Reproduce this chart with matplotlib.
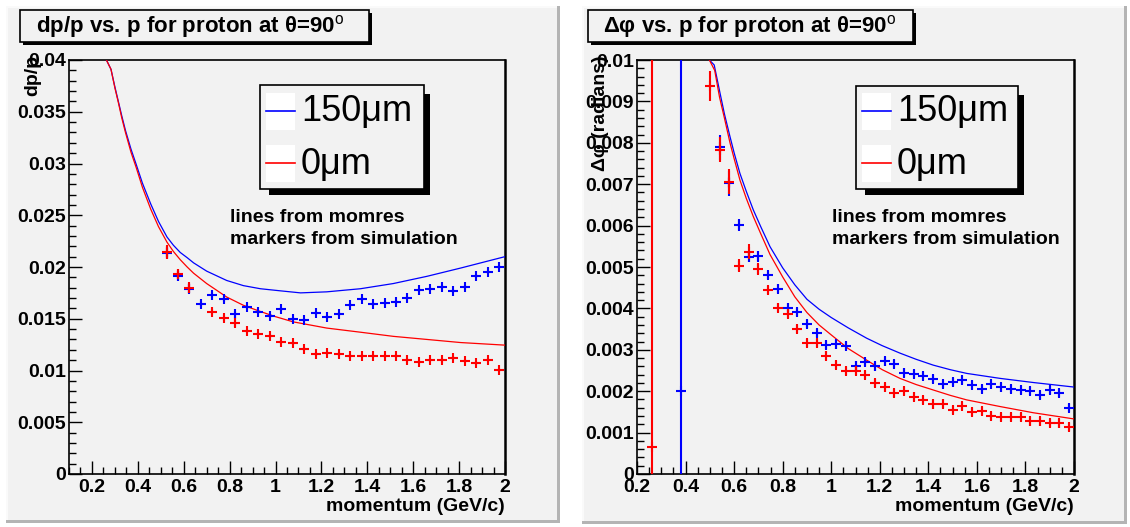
import matplotlib
matplotlib.use('Agg')
import matplotlib.pyplot as plt
from matplotlib.patches import Rectangle
from matplotlib.ticker import MultipleLocator, FuncFormatter

plt.rcParams['font.family'] = ['Liberation Sans', 'DejaVu Sans']
plt.rcParams['mathtext.fontset'] = 'custom'
plt.rcParams['mathtext.rm'] = 'Liberation Sans'

# ---- left panel: dp/p ----
dpp_line_150_p = [0.263, 0.283, 0.30, 0.315, 0.33, 0.346, 0.37, 0.393, 0.42, 0.456, 0.49, 0.527, 0.555, 0.585, 0.615, 0.643,
                  0.70, 0.787, 0.86, 0.934, 1.02, 1.109, 1.223, 1.37, 1.513, 1.66, 1.807, 2.0]
dpp_line_150_v = [0.0400, 0.0391, 0.0374, 0.0360, 0.0346, 0.0332, 0.0314, 0.0299, 0.0281, 0.0261, 0.0244, 0.0229, 0.0221, 0.0214, 0.0209, 0.0204,
                  0.0196, 0.0187, 0.0182, 0.0179, 0.0177, 0.0175, 0.0176, 0.0179, 0.0184, 0.0191, 0.0199, 0.0210]
dpp_line_0_p = [0.263, 0.283, 0.30, 0.315, 0.33, 0.346, 0.37, 0.393, 0.42, 0.456, 0.49, 0.527, 0.555, 0.585, 0.615, 0.643,
                0.70, 0.787, 0.86, 0.934, 1.0, 1.077, 1.15, 1.223, 1.37, 1.513, 1.66, 1.807, 2.0]
dpp_line_0_v = [0.0400, 0.0391, 0.0373, 0.0359, 0.0344, 0.0330, 0.0311, 0.0296, 0.0277, 0.0256, 0.0239, 0.0224, 0.0215, 0.0207, 0.0200, 0.0194,
                0.0184, 0.0171, 0.0163, 0.0157, 0.0152, 0.0147, 0.0144, 0.0141, 0.0137, 0.0133, 0.0130, 0.0127, 0.01245]

dpp_sim_150_p = [0.525, 0.575, 0.625, 0.675, 0.725, 0.775, 0.825, 0.875, 0.925, 0.975, 1.025, 1.075, 1.125, 1.175, 1.225,
                 1.275, 1.325, 1.375, 1.425, 1.475, 1.525, 1.575, 1.625, 1.675, 1.725, 1.775, 1.825, 1.875, 1.925, 1.975]
dpp_sim_150_v = [0.0214, 0.01916, 0.01792, 0.01646, 0.01727, 0.01688, 0.01542, 0.01617, 0.01565, 0.01526, 0.01591, 0.0150, 0.01484, 0.01558, 0.0152,
                 0.01549, 0.0163, 0.01688, 0.01646, 0.01656, 0.01662, 0.01698, 0.01779, 0.01786, 0.01808, 0.01769, 0.01802, 0.01916, 0.01955, 0.01997]
dpp_sim_150_e = [0.0006, 0.0005, 0.0004, 0.0003, 0.0003, 0.0003, 0.0003, 0.0002, 0.0002, 0.0002, 0.0002, 0.0002, 0.0002, 0.0002, 0.0002,
                 0.0002, 0.0002, 0.0002, 0.0002, 0.0002, 0.0002, 0.0002, 0.0002, 0.0002, 0.0002, 0.0002, 0.0002, 0.0002, 0.0002, 0.0002]
dpp_sim_0_p = [0.525, 0.575, 0.625, 0.725, 0.775, 0.825, 0.875, 0.925, 0.975, 1.025, 1.075, 1.125, 1.175, 1.225,
               1.275, 1.325, 1.375, 1.425, 1.475, 1.525, 1.575, 1.625, 1.675, 1.725, 1.775, 1.825, 1.875, 1.925, 1.975]
dpp_sim_0_v = [0.02143, 0.01932, 0.0180, 0.01565, 0.0151, 0.01455, 0.0138, 0.01354, 0.0133, 0.01273, 0.01266, 0.01211, 0.01162, 0.01169,
               0.01159, 0.01136, 0.01143, 0.01143, 0.01136, 0.01143, 0.01097, 0.01084, 0.01104, 0.01097, 0.0112, 0.01088, 0.01071, 0.01104, 0.01006]
dpp_sim_0_e = [0.0007, 0.0005, 0.00055, 0.0003, 0.0003, 0.0003, 0.0002, 0.0002, 0.0002, 0.0002, 0.0002, 0.0002, 0.0002, 0.0002,
               0.0002, 0.0002, 0.0002, 0.0002, 0.0002, 0.0002, 0.0002, 0.0002, 0.0002, 0.0002, 0.0002, 0.0002, 0.0002, 0.0002, 0.0002]

# ---- right panel: delta phi ----
dphi_line_150_p = [0.498, 0.518, 0.542, 0.56, 0.583, 0.60, 0.624, 0.65, 0.679, 0.71, 0.748, 0.80, 0.85, 0.90, 0.95, 1.0,
                   1.07, 1.146, 1.21, 1.283, 1.35, 1.42, 1.49, 1.558, 1.695, 1.832, 2.0]
dphi_line_150_v = [0.0100, 0.00988, 0.0092, 0.0087, 0.00815, 0.00776, 0.00726, 0.00683, 0.00638, 0.00597, 0.00549, 0.00498, 0.00457, 0.00422, 0.00398, 0.00378,
                   0.00353, 0.00328, 0.0031, 0.00292, 0.00277, 0.00263, 0.00252, 0.00243, 0.00231, 0.00221, 0.0021]
dphi_line_0_p = [0.498, 0.52, 0.54, 0.56, 0.583, 0.60, 0.624, 0.65, 0.679, 0.71, 0.748, 0.80, 0.85, 0.90, 0.95, 1.0,
                 1.07, 1.146, 1.21, 1.283, 1.35, 1.42, 1.49, 1.558, 1.695, 1.832, 2.0]
dphi_line_0_v = [0.0100, 0.00975, 0.0091, 0.0086, 0.0080, 0.00762, 0.0071, 0.00666, 0.00622, 0.0058, 0.0053, 0.00476, 0.00428, 0.0039, 0.0036, 0.00336,
                 0.00303, 0.00275, 0.00252, 0.00231, 0.00216, 0.00203, 0.0019, 0.00179, 0.00163, 0.00148, 0.00133]

dphi_sim_p = [0.26, 0.38, 0.50, 0.54, 0.58, 0.62, 0.66, 0.70, 0.74, 0.78, 0.82, 0.86, 0.90, 0.94, 0.98, 1.02, 1.06, 1.10, 1.14, 1.18,
              1.22, 1.26, 1.30, 1.34, 1.38, 1.42, 1.46, 1.50, 1.54, 1.58, 1.62, 1.66, 1.70, 1.74, 1.78, 1.82, 1.86, 1.90, 1.94, 1.98]
dphi_sim_150_v = [None, 0.0020, None, 0.00789, 0.00702, 0.00602, 0.00524, 0.00526, 0.0048, 0.00448, 0.00402, 0.00391, 0.00363, 0.00341, 0.00311, 0.00313, 0.0031, 0.00262, 0.0027, 0.0026,
                  0.00272, 0.00266, 0.00245, 0.00242, 0.00237, 0.00229, 0.00218, 0.00222, 0.00227, 0.00215, 0.00205, 0.00217, 0.00209, 0.00206, 0.00203, 0.00201, 0.00191, 0.00203, 0.00195, 0.0016]
dphi_sim_150_e = [None, 0.05, None, 0.0003, 0.0003, 0.00015, 0.00012, 0.00013, 0.0001, 0.0001, 0.0001, 0.0001, 0.0001, 0.0001, 0.0001, 0.0001, 0.0001, 0.0001, 0.0001, 0.0001,
                  0.0001, 0.0001, 0.0001, 0.0001, 0.0001, 0.0001, 0.0001, 0.0001, 0.0001, 0.0001, 0.0001, 0.0001, 0.0001, 0.0001, 0.0001, 0.0001, 0.0001, 0.0001, 0.0001, 0.0001]
dphi_sim_0_v = [0.00065, None, 0.009375, 0.00783, 0.00706, 0.00503, 0.00537, 0.00495, 0.00445, 0.00402, 0.00386, 0.00351, 0.00317, 0.00317, 0.00286, 0.00264, 0.00248, 0.00248, 0.00239, 0.00219,
                0.00209, 0.00196, 0.0020, 0.00187, 0.00179, 0.00168, 0.0017, 0.00154, 0.00164, 0.0015, 0.00153, 0.0014, 0.00138, 0.00138, 0.00138, 0.00127, 0.00127, 0.00124, 0.00122, 0.00114]
dphi_sim_0_e = [0.05, None, 0.00036, 0.0003, 0.0003, 0.00016, 0.00018, 0.00015, 0.0001, 0.0001, 0.0001, 0.0001, 0.0001, 0.0001, 0.0001, 0.0001, 0.0001, 0.0001, 0.0001, 0.0001,
                0.0001, 0.0001, 0.0001, 0.0001, 0.0001, 0.0001, 0.0001, 0.0001, 0.0001, 0.0001, 0.0001, 0.0001, 0.0001, 0.0001, 0.0001, 0.0001, 0.0001, 0.0001, 0.0001, 0.0001]

W, H = 1130, 527
BG = '#f2f2f2'
BLUE = '#0000ff'
RED = '#ff0000'

fig = plt.figure(figsize=(W / 100, H / 100), dpi=100)
fig.patch.set_facecolor('white')


def fx(x):
    return x / W


def fy(y):
    return 1 - y / H


def box(x0, y0, x1, y1, **kw):
    r = Rectangle((fx(x0), fy(y1)), fx(x1) - fx(x0), fy(y0) - fy(y1), transform=fig.transFigure, **kw)
    fig.add_artist(r)
    return r


def pad(x0, y0, x1, y1):
    box(x0, y0, x1, y1, facecolor='#b4b4b4', edgecolor='none', zorder=0)
    box(x0, y0, x1 - 3, y1 - 3, facecolor='#fafafa', edgecolor='none', zorder=0)
    box(x0 + 2, y0 + 2, x1 - 3, y1 - 3, facecolor=BG, edgecolor='none', zorder=0)


pad(6, 6, 560, 523)
pad(582, 6, 1127, 524)


def fmt(v, pos):
    return f'{round(v, 6):g}'


def setup(ax, xlo, ylo, yhi, ymaj, ymin):
    ax.set_facecolor(BG)
    ax.set_xlim(xlo, 2.0)
    ax.set_ylim(ylo, yhi)
    ax.xaxis.set_major_locator(MultipleLocator(0.2))
    ax.xaxis.set_minor_locator(MultipleLocator(0.05))
    ax.yaxis.set_major_locator(MultipleLocator(ymaj))
    ax.yaxis.set_minor_locator(MultipleLocator(ymin))
    ax.xaxis.set_major_formatter(FuncFormatter(fmt))
    ax.yaxis.set_major_formatter(FuncFormatter(fmt))
    ax.tick_params(which='both', direction='in', top=False, right=False, width=1.0, colors='black')
    ax.tick_params(which='major', length=9.5)
    ax.tick_params(which='minor', length=5)
    ax.tick_params(axis='x', which='major', pad=3.5, labelsize=14)
    ax.tick_params(axis='y', which='major', pad=2, labelsize=14)
    for lab in ax.get_xticklabels() + ax.get_yticklabels():
        lab.set_fontweight('bold')
    for s in ax.spines.values():
        s.set_linewidth(1.2)
    ax.spines['right'].set_linewidth(1.8)
    ax.text(1.0, -0.0773, 'momentum (GeV/c)', transform=ax.transAxes, ha='right', va='center',
            fontsize=14, fontweight='bold')


def sim(ax, p, v, e, color, z):
    xs = [a for a, b in zip(p, v) if b is not None]
    ys = [b for b in v if b is not None]
    es = [c for c in e if c is not None]
    ax.errorbar(xs, ys, yerr=es, fmt='+', color=color, ms=7.2, mew=1.5, elinewidth=1.5,
                capsize=0, zorder=z, clip_on=True)


# left axes
ax1 = fig.add_axes([fx(69), fy(474), fx(505) - fx(69), fy(60) - fy(474)])
setup(ax1, 0.1, 0, 0.04, 0.005, 0.001)
ax1.plot(dpp_line_150_p, dpp_line_150_v, color=BLUE, lw=0.9, zorder=3)
ax1.plot(dpp_line_0_p, dpp_line_0_v, color=RED, lw=0.9, zorder=3)
sim(ax1, dpp_sim_150_p, dpp_sim_150_v, dpp_sim_150_e, BLUE, 4)
sim(ax1, dpp_sim_0_p, dpp_sim_0_v, dpp_sim_0_e, RED, 5)
ax1.text(-0.0826, 1.012, 'dp/p', transform=ax1.transAxes, rotation=90, ha='center', va='top',
         fontsize=14, fontweight='bold')

# right axes
ax2 = fig.add_axes([fx(637), fy(474), fx(1074) - fx(637), fy(60) - fy(474)])
setup(ax2, 0.2, 0, 0.01, 0.001, 0.0002)
ax2.plot(dphi_line_150_p, dphi_line_150_v, color=BLUE, lw=0.9, zorder=3)
ax2.plot(dphi_line_0_p, dphi_line_0_v, color=RED, lw=0.9, zorder=3)
sim(ax2, dphi_sim_p, dphi_sim_150_v, dphi_sim_150_e, BLUE, 4)
sim(ax2, dphi_sim_p, dphi_sim_0_v, dphi_sim_0_e, RED, 5)
ax2.text(-0.0824, 1.012, 'Δφ (radians)', transform=ax2.transAxes, rotation=90, ha='center', va='top',
         fontsize=14, fontweight='bold')


# title boxes
def title(x0, x1, tx, s):
    box(x0 + 3, 13, x1 + 3, 45, facecolor='black', edgecolor='none', zorder=5)
    box(x0, 10, x1, 42, facecolor=BG, edgecolor='black', linewidth=1.2, zorder=6)
    fig.text(fx(tx), fy(27), s, ha='left', va='center', fontsize=16, fontweight='bold', zorder=7)


title(20, 369, 36, 'dp/p vs. p for proton at θ=90$^{\\rm o}$')
title(588, 913, 603, 'Δφ vs. p for proton at θ=90$^{\\rm o}$')


# legends
def legend(x0, x1, y0, y1):
    box(x0 + 9, y0 + 9, x1 + 6, y1 + 6, facecolor='black', edgecolor='none', zorder=5)
    box(x0, y0, x1, y1, facecolor=BG, edgecolor='black', linewidth=1.2, zorder=6)
    entries = [('150μm', BLUE, 111), ('0μm', RED, 163)]
    for lab, col, yc in entries:
        box(x0 + 6, yc - 18, x0 + 35, yc + 19, facecolor='white', edgecolor='none', zorder=7)
        fig.add_artist(plt.Line2D([fx(x0 + 6), fx(x0 + 35)], [fy(yc), fy(yc)], transform=fig.transFigure,
                                  color=col, lw=1.2, zorder=8))
        fig.text(fx(x0 + 41), fy(yc + 1), lab, ha='left', va='center', fontsize=26, zorder=8)


legend(260, 424, 85, 189)
legend(856, 1018, 86, 189)

for tx in (230, 832):
    fig.text(fx(tx), fy(218), 'lines from momres', ha='left', va='center', fontsize=14, fontweight='bold')
    fig.text(fx(tx), fy(239), 'markers from simulation', ha='left', va='center', fontsize=14, fontweight='bold')

fig.savefig('out.png', dpi=100)
